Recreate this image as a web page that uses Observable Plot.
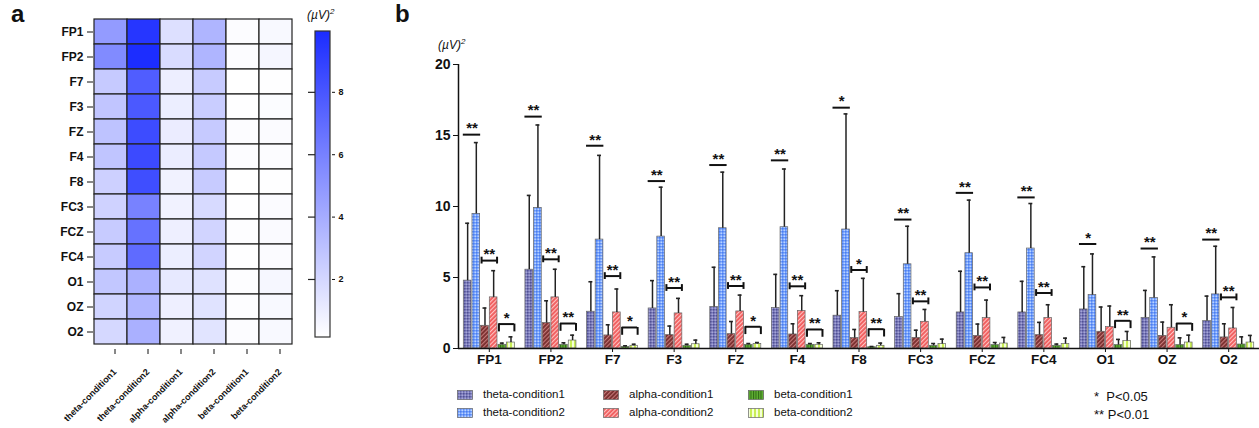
<!DOCTYPE html>
<html><head><meta charset="utf-8">
<script src="https://cdn.jsdelivr.net/npm/d3@7"></script>
<script src="https://cdn.jsdelivr.net/npm/@observablehq/plot@0.6"></script>
<style>
body{margin:0;background:#fff;font-family:"Liberation Sans",Arial,sans-serif;color:#111;}
#root{position:relative;width:1259px;height:428px;overflow:hidden;background:#fff;}
.abs{position:absolute;}
.panel{font-weight:bold;font-size:24px;line-height:1;}
.unit{font-style:italic;font-size:12px;line-height:1;}
.leg{font-size:11.5px;line-height:1;white-space:nowrap;display:flex;align-items:center;}
.leg svg{margin-right:10px;}
.pv{font-size:13px;line-height:1;white-space:pre;}
</style></head><body>
<svg width="0" height="0" style="position:absolute"><defs id="defs"></defs></svg>
<div id="root"></div>
<script>
// ---------- data ----------
const electrodes = ["FP1","FP2","F7","F3","FZ","F4","F8","FC3","FCZ","FC4","O1","OZ","O2"];
const conditions = ["theta-condition1","theta-condition2","alpha-condition1","alpha-condition2","beta-condition1","beta-condition2"];

const theta1Mean = [4.78,5.55,2.59,2.82,2.92,2.85,2.31,2.21,2.54,2.54,2.75,2.16,1.93];
const theta1Err  = [8.82,10.78,4.70,4.78,5.72,5.22,4.07,3.86,5.44,4.73,5.76,4.09,3.69];
const theta2Mean = [9.48,9.90,7.67,7.88,8.47,8.54,8.38,5.93,6.71,7.04,3.76,3.55,3.81];
const theta2Err  = [14.5,15.74,13.6,11.36,12.42,12.64,16.52,8.61,10.45,10.21,6.66,6.45,7.20];
const alpha1Mean = [1.60,1.79,0.92,0.94,1.01,0.99,0.73,0.75,0.89,0.94,1.18,0.89,0.78];
const alpha1Err  = [2.85,3.36,1.67,1.58,1.90,1.74,1.34,1.29,1.72,1.84,2.92,1.86,1.74];
const alpha2Mean = [3.60,3.60,2.54,2.47,2.61,2.64,2.56,1.88,2.14,2.14,1.51,1.46,1.41];
const alpha2Err  = [5.48,5.58,4.19,3.53,3.76,3.72,4.94,2.75,3.41,3.08,2.99,3.08,2.89];
const beta1Mean  = [0.26,0.26,0.12,0.19,0.26,0.26,0.09,0.19,0.24,0.19,0.24,0.24,0.28];
const beta1Err   = [0.38,0.40,0.19,0.30,0.35,0.35,0.14,0.35,0.42,0.31,0.64,0.75,0.82];
const beta2Mean  = [0.42,0.56,0.19,0.30,0.31,0.26,0.19,0.31,0.35,0.31,0.52,0.42,0.42];
const beta2Err   = [0.82,0.94,0.30,0.59,0.42,0.40,0.38,0.66,0.78,0.73,1.20,0.94,0.92];

// significance markers: [electrode, height, label]
const thetaSig = [["FP1",15.06,"**"],["FP2",16.33,"**"],["F7",14.28,"**"],["F3",11.79,"**"],["FZ",12.92,"**"],["F4",13.25,"**"],["F8",16.96,"*"],["FC3",9.08,"**"],["FCZ",10.96,"**"],["FC4",10.64,"**"],["O1",7.36,"*"],["OZ",7.04,"**"],["O2",7.67,"**"]];
const alphaSig = [["FP1",6.19,"**"],["FP2",6.28,"**"],["F7",5.10,"**"],["F3",4.26,"**"],["FZ",4.40,"**"],["F4",4.38,"**"],["F8",5.53,"*"],["FC3",3.32,"**"],["FCZ",4.30,"**"],["FC4",3.91,"**"],["O2",3.60,"**"]];
const betaSig  = [["FP1",1.72,"*"],["FP2",1.76,"**"],["F7",1.48,"*"],["FZ",1.53,"*"],["F4",1.34,"**"],["F8",1.36,"**"],["O1",1.95,"**"],["OZ",1.76,"*"]];

const yTicksB = [0,5,10,15,20];
const colorDomain = [0.14, 9.95];
const colorTicks = [2,4,6,8];
const pLegend = ["*  P<0.05","** P<0.01"];

// ---------- patterns ----------
const defs = d3.select("#defs");
function checker(id, base, dark, light){
  const p = defs.append("pattern").attr("id",id).attr("patternUnits","userSpaceOnUse").attr("width",3).attr("height",3);
  p.append("rect").attr("width",3).attr("height",3).attr("fill",base);
  p.append("rect").attr("width",1.5).attr("height",1.5).attr("fill",dark);
  p.append("rect").attr("x",1.5).attr("y",1.5).attr("width",1.5).attr("height",1.5).attr("fill",light);
}
function diag(id, base, line){
  const p = defs.append("pattern").attr("id",id).attr("patternUnits","userSpaceOnUse").attr("width",3).attr("height",3).attr("patternTransform","rotate(45)");
  p.append("rect").attr("width",3).attr("height",3).attr("fill",base);
  p.append("rect").attr("width",1.1).attr("height",3).attr("fill",line);
}
function vert(id, base, line, w, lw){
  const p = defs.append("pattern").attr("id",id).attr("patternUnits","userSpaceOnUse").attr("width",w).attr("height",4);
  p.append("rect").attr("width",w).attr("height",4).attr("fill",base);
  p.append("rect").attr("width",lw).attr("height",4).attr("fill",line);
}
checker("p0","#7a7ab8","#505096","#a4a4d8");
checker("p1","#6f9cfb","#4a7ff0","#b9d3ff");
diag("p2","#7a2f2f","#c57a7a");
diag("p3","#f05e5e","#ffc2c2");
vert("p4","#5fae33","#2f6a14",2.5,1);
vert("p5","#c9ee55","#f4ffd6",4,2);
const topBlue = "#1b2cff";
const lg = defs.append("linearGradient").attr("id","cbar").attr("x1",0).attr("y1",1).attr("x2",0).attr("y2",0);
lg.append("stop").attr("offset","0%").attr("stop-color","#ffffff");
lg.append("stop").attr("offset","100%").attr("stop-color",topBlue);

const root = document.getElementById("root");
function place(node, left, top){ node.style.position="absolute"; node.style.left=left+"px"; node.style.top=top+"px"; root.appendChild(node); return node; }
function label(html, cls, left, top){ const d=document.createElement("div"); d.className="abs "+cls; d.innerHTML=html; d.style.left=left+"px"; d.style.top=top+"px"; root.appendChild(d); return d; }

const means = [theta1Mean,theta2Mean,alpha1Mean,alpha2Mean,beta1Mean,beta2Mean];
const errs  = [theta1Err,theta2Err,alpha1Err,alpha2Err,beta1Err,beta2Err];
const rows = [];
electrodes.forEach((e,i)=>conditions.forEach((c,j)=>rows.push({e, ei:i, c, ci:j, mean:means[j][i], err:errs[j][i]})));

const font = "Liberation Sans, Arial, sans-serif";

// ---------- panel a: heatmap ----------
const heat = Plot.plot({
  width: 300, height: 428,
  marginLeft: 93, marginTop: 14, marginRight: 7, marginBottom: 79,
  style: {fontFamily: font, color: "#111", background: "transparent", overflow: "visible"},
  x: {domain: conditions, padding: 0, label: null},
  y: {domain: electrodes, padding: 0, label: null},
  color: {type: "linear", domain: colorDomain, range: ["#ffffff", topBlue], interpolate: "rgb", clamp: true},
  marks: [
    Plot.cell(rows, {x: "c", y: "e", fill: "mean", stroke: "#222", strokeWidth: 1.2, inset: 0}),
    Plot.axisY({tickSize: 6, tickPadding: 4, fontSize: 12, fontWeight: "bold", label: null}),
    Plot.axisX({tickSize: 5, tickPadding: 16, dx: 4, tickRotate: -45, fontSize: 9, fontWeight: "bold", label: null})
  ]
});
place(heat, 0, 0);

// ---------- colorbar ----------
const cbar = Plot.plot({
  width: 60, height: 360,
  marginLeft: 14, marginRight: 29, marginTop: 31, marginBottom: 23,
  style: {fontFamily: font, color: "#111", background: "transparent", overflow: "visible"},
  x: {domain: [0,1], axis: null},
  y: {domain: colorDomain, label: null},
  marks: [
    Plot.rect([colorDomain], {x1: 0, x2: 1, y1: d => d[0], y2: d => d[1], fill: "url(#cbar)", stroke: "#333", strokeWidth: 1.2}),
    Plot.axisY({anchor: "right", ticks: colorTicks, tickSize: 3, tickPadding: 4, fontSize: 9, fontWeight: "bold", label: null}),
    Plot.tickY(colorTicks, {y: d => d, x: 0, stroke: "#222", strokeWidth: 1.2, insetRight: 14})
  ]
});
place(cbar, 300, 0);
label("(<i>µV</i>)<sup style='font-size:8px'>2</sup>", "unit", 307, 8);

// ---------- panel b: grouped bars ----------
const slot = 0.1407, half = 0.422, gap = 0.008;
const start = ei => ei - half;
const center = d => start(d.ei) + (d.ci + 0.5) * slot;
const sigRows = (arr, k) => arr.map(([e,y,t]) => ({ei: electrodes.indexOf(e), y, t, k}));
const tS = sigRows(thetaSig, 0), aS = sigRows(alphaSig, 1), bS = sigRows(betaSig, 2);
const xDomain = [-0.5, electrodes.length - 0.5];

const bars = Plot.plot({
  width: 879, height: 370,
  marginLeft: 78, marginRight: 0, marginTop: 64, marginBottom: 22,
  style: {fontFamily: font, color: "#111", background: "transparent", overflow: "visible"},
  x: {domain: xDomain, label: null},
  y: {domain: [0,20], label: null},
  color: {type: "identity"},
  marks: [
    Plot.rectY(rows, {x1: d => start(d.ei) + d.ci*slot + gap, x2: d => start(d.ei) + (d.ci+1)*slot - gap, y1: 0, y2: "mean",
      fill: d => `url(#p${d.ci})`, stroke: "#666", strokeWidth: 0.7}),
    Plot.ruleX(rows, {x: center, y1: "mean", y2: "err", stroke: "#222", strokeWidth: 1.5}),
    Plot.ruleY(rows, {y: "err", x1: d => center(d) - 0.032, x2: d => center(d) + 0.032, stroke: "#222", strokeWidth: 1.6}),
    // theta lines
    Plot.ruleY(tS, {y: "y", x1: d => start(d.ei), x2: d => start(d.ei) + 2*slot, stroke: "#111", strokeWidth: 2}),
    // alpha H brackets
    Plot.ruleY(aS, {y: "y", x1: d => start(d.ei) + 2*slot + 0.015, x2: d => start(d.ei) + 4*slot - 0.015, stroke: "#111", strokeWidth: 2}),
    Plot.ruleX(aS, {x: d => start(d.ei) + 2*slot + 0.015, y1: d => d.y - 0.24, y2: d => d.y + 0.24, stroke: "#111", strokeWidth: 2}),
    Plot.ruleX(aS, {x: d => start(d.ei) + 4*slot - 0.015, y1: d => d.y - 0.24, y2: d => d.y + 0.24, stroke: "#111", strokeWidth: 2}),
    // beta brackets
    Plot.ruleY(bS, {y: "y", x1: d => start(d.ei) + 4*slot + 0.015, x2: d => start(d.ei) + 6*slot - 0.015, stroke: "#111", strokeWidth: 2}),
    Plot.ruleX(bS, {x: d => start(d.ei) + 4*slot + 0.015, y1: "y", y2: d => d.y - 0.55, stroke: "#111", strokeWidth: 2}),
    Plot.ruleX(bS, {x: d => start(d.ei) + 6*slot - 0.015, y1: "y", y2: d => d.y - 0.55, stroke: "#111", strokeWidth: 2}),
    // asterisks
    Plot.text([...tS, ...aS, ...bS], {x: d => start(d.ei) + (2*d.k + 1)*slot, y: "y", text: "t", dy: -6, fontSize: 15, fontWeight: "bold", fill: "#111"}),
    // axes
    Plot.ruleY([0], {stroke: "#111", strokeWidth: 1.5}),
    Plot.ruleX([xDomain[0]], {y1: 0, y2: 20, stroke: "#111", strokeWidth: 1.5}),
    Plot.axisY({ticks: yTicksB, tickSize: 5, tickPadding: 3, fontSize: 14, fontWeight: "bold", label: null}),
    Plot.axisX({ticks: d3.range(electrodes.length), tickFormat: i => electrodes[i], tickSize: 4, tickPadding: 2, fontSize: 13.5, fontWeight: "bold", label: null})
  ]
});
place(bars, 380, 0);
label("(<i>µV</i>)<sup style='font-size:8px'>2</sup>", "unit", 438, 38);

// panel labels
label("a", "panel", 11, 2);
label("b", "panel", 395, 2);

// ---------- legend ----------
const legPos = [[457,389],[457,407],[603,389],[603,407],[748,389],[748,407]];
conditions.forEach((c,j)=>{
  const d = document.createElement("div");
  d.className = "abs leg";
  d.innerHTML = `<svg width="16" height="10"><rect x="0.5" y="0.5" width="15" height="9" fill="url(#p${j})" stroke="#666" stroke-width="0.7"/></svg>${c}`;
  d.style.left = legPos[j][0]+"px"; d.style.top = legPos[j][1]+"px";
  root.appendChild(d);
});
label(pLegend[0], "pv", 1094, 390);
label(pLegend[1], "pv", 1094, 408);
</script>
</body></html>
